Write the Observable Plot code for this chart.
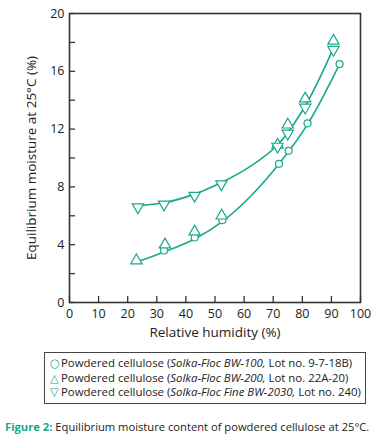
<!DOCTYPE html>
<html>
<head>
<meta charset="utf-8">
<script src="https://cdn.jsdelivr.net/npm/d3@7"></script>
<script src="https://cdn.jsdelivr.net/npm/@observablehq/plot@0.6"></script>
<style>
  body { margin: 0; background: #fff; font-family: "Open Sans", "DejaVu Sans", sans-serif; }
  #wrap { width: 379px; height: 441px; position: relative; }
  #legend { position: absolute; left: 44px; top: 352px; width: 322px; height: 52px; border: 1px solid #444; box-sizing: border-box; padding: 3px 0 0 5px; font-size: 11.4px; line-height: 14.5px; color: #222; }
  #legend .m { color: #17a98c; display: inline-block; width: 11px; }
  #caption { position: absolute; left: 5px; top: 419px; font-size: 11.2px; color: #222; }
  #caption b { color: #17a98c; }
  svg g[aria-label="x-axis label"] text, svg g[aria-label="y-axis label"] text { font-size: 13.5px; }
</style>
</head>
<body>
<div id="wrap">
  <div id="chart"></div>
  <div id="legend"></div>
  <div id="caption"><b>Figure 2:</b> Equilibrium moisture content of powdered cellulose at 25°C.</div>
</div>
<script>
const color = "#17a98c";

// Powdered cellulose (Solka-Floc BW-100, Lot no. 9-7-18B) — circles
const bw100RH = [32.5, 43, 52.5, 72, 75.3, 81.8, 92.8];
const bw100EMC = [3.6, 4.5, 5.7, 9.6, 10.5, 12.4, 16.5];

// Powdered cellulose (Solka-Floc BW-200, Lot no. 22A-20) — up triangles
const bw200RH = [23, 32.8, 43, 52.3, 71.5, 75, 81, 90.7];
const bw200EMC = [2.8, 3.9, 4.8, 5.9, 10.8, 12.2, 14.0, 18.0];

// Powdered cellulose (Solka-Floc Fine BW-2030, Lot no. 240) — down triangles
const bw2030RH = [23.5, 32.5, 43, 52.2, 71.5, 75, 81, 90.7];
const bw2030EMC = [6.7, 6.9, 7.5, 8.3, 10.9, 11.8, 13.6, 17.6];

// Fitted curves
const lowerCurveRH = [23, 32.5, 43, 52.5, 62, 72, 82, 92.8];
const lowerCurveEMC = [2.8, 3.5, 4.4, 5.6, 7.3, 9.6, 12.4, 16.5];
const upperCurveRH = [23.5, 32.5, 43, 52.2, 62, 71.5, 81, 90.7];
const upperCurveEMC = [6.7, 6.9, 7.5, 8.3, 9.4, 10.9, 13.6, 17.6];

const legendLabels = [
  ["○", "Powdered cellulose (<i>Solka-Floc BW-100,</i> Lot no. 9-7-18B)"],
  ["△", "Powdered cellulose (<i>Solka-Floc BW-200,</i> Lot no. 22A-20)"],
  ["▽", "Powdered cellulose (<i>Solka-Floc Fine BW-2030,</i> Lot no. 240)"]
];

const xTicks = [0, 10, 20, 30, 40, 50, 60, 70, 80, 90, 100];
const yMinorTicks = [0, 2, 4, 6, 8, 10, 12, 14, 16, 18, 20];
const yTicks = [0, 4, 8, 12, 16, 20];

const zip = (xs, ys) => xs.map((x, i) => ({x, y: ys[i]}));
const circles = zip(bw100RH, bw100EMC);
const ups = zip(bw200RH, bw200EMC);
const downs = zip(bw2030RH, bw2030EMC);
const lower = zip(lowerCurveRH, lowerCurveEMC);
const upper = zip(upperCurveRH, upperCurveEMC);

const chart = Plot.plot({
  width: 379,
  height: 343,
  marginTop: 13,
  marginBottom: 41,
  marginLeft: 69,
  marginRight: 19,
  style: { fontFamily: "'Open Sans', 'DejaVu Sans', sans-serif", fontSize: "12px", color: "#222", background: "white" },
  x: { domain: [0, 100] },
  y: { domain: [0, 20] },
  marks: [
    Plot.line(lower, { x: "x", y: "y", curve: "catmull-rom", stroke: color, strokeWidth: 1.6 }),
    Plot.line(upper, { x: "x", y: "y", curve: "catmull-rom", stroke: color, strokeWidth: 1.6 }),
    Plot.dot(circles, { x: "x", y: "y", r: 3.5, stroke: color, fill: "white", strokeWidth: 1.2 }),
    Plot.dot(ups, { x: "x", y: "y", symbol: "triangle", r: 4.2, stroke: color, fill: "white", strokeWidth: 1.2, dy: -1.5 }),
    Plot.dot(downs, { x: "x", y: "y", symbol: "triangle", rotate: 180, r: 4.2, stroke: color, fill: "white", strokeWidth: 1.2, dy: 1.5 }),
    Plot.axisX({ ticks: xTicks, tickSize: -6, tickPadding: 13, stroke: "#333", strokeWidth: 1.3, fontSize: 12.5,
      label: "Relative humidity (%)", labelAnchor: "center", labelArrow: "none", labelOffset: 34 }),
    Plot.axisY({ ticks: yMinorTicks, tickSize: -6, stroke: "#333", strokeWidth: 1.3, text: null, label: null }),
    Plot.axisY({ ticks: yTicks, tickSize: 0, tickPadding: 5, fontSize: 12.5,
      label: "Equilibrium moisture at 25°C (%)", labelAnchor: "center", labelArrow: "none", labelOffset: 43 }),
    Plot.frame({ stroke: "#333", strokeWidth: 1.6 })
  ]
});
document.getElementById("chart").appendChild(chart);

const leg = document.getElementById("legend");
leg.innerHTML = legendLabels.map(([m, t]) => `<div><span class="m">${m}</span>${t}</div>`).join("");
</script>
</body>
</html>
